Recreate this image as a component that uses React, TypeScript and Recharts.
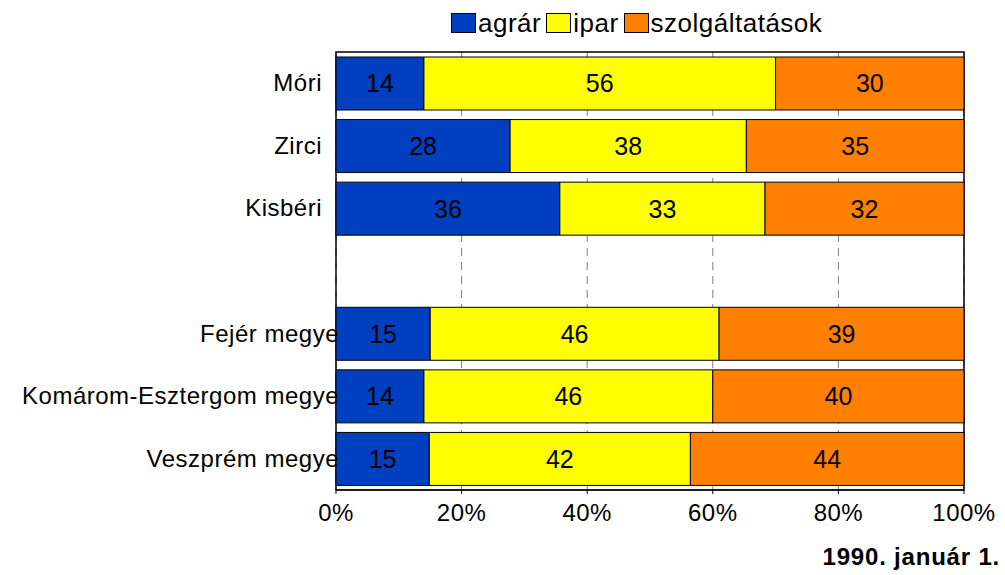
import React from 'react';
import { BarChart, Bar, XAxis, YAxis, CartesianGrid, LabelList, ReferenceArea } from 'recharts';

const categories = ['Móri', 'Zirci', 'Kisbéri', '', 'Fejér megye', 'Komárom-Esztergom megye', 'Veszprém megye'];
const agrar = [14, 28, 36, null, 15, 14, 15];
const ipar = [56, 38, 33, null, 46, 46, 42];
const szolg = [30, 35, 32, null, 39, 40, 44];
const xTicks = [0, 0.2, 0.4, 0.6, 0.8, 1];

const series = [
  { key: 'agrar', label: 'agrár', color: '#0040C0' },
  { key: 'ipar', label: 'ipar', color: '#FFFF00' },
  { key: 'szolg', label: 'szolgáltatások', color: '#FF8000' },
];

const data = categories.map((name, i) => ({
  name,
  agrar: agrar[i],
  ipar: ipar[i],
  szolg: szolg[i],
}));

const FONT = 'Liberation Sans, Arial, sans-serif';

// county labels ("megye") run over the axis line in the original
const CategoryTick = (props: any) => {
  const { x, y, payload } = props;
  const long = String(payload.value).includes('megye');
  return (
    <text x={x + (long ? 11 : -6)} y={y} dy={8} textAnchor="end" fontSize={24} letterSpacing={0.5} fill="#000" fontFamily={FONT}>
      {payload.value}
    </text>
  );
};

const showValue = (v: any) => (v == null || v === 0 ? '' : v);

export default function App() {
  return (
    <div style={{ position: 'absolute', left: 0, top: 0, width: 1005, height: 575, background: '#fff', fontFamily: FONT }}>
      {/* legend */}
      <div style={{ position: 'absolute', top: 8, left: 451, display: 'flex', alignItems: 'center', fontSize: 26, letterSpacing: 0.5, lineHeight: '30px' }}>
        {series.map((s) => (
          <div key={s.key} style={{ display: 'flex', alignItems: 'center', marginRight: 5 }}>
            <span style={{ display: 'inline-block', width: 23, height: 18, background: s.color, border: '1px solid #000', marginRight: 2 }} />
            <span>{s.label}</span>
          </div>
        ))}
      </div>
      <BarChart
        width={1005}
        height={575}
        data={data}
        layout="vertical"
        stackOffset="expand"
        barCategoryGap="8%"
        margin={{ top: 52, right: 41, bottom: 45, left: 0 }}
      >
        <CartesianGrid horizontal={false} stroke="#808080" strokeDasharray="8 6" />
        <XAxis
          type="number"
          domain={[0, 1]}
          ticks={xTicks}
          tickFormatter={(v: number) => `${Math.round(v * 100)}%`}
          height={40}
          stroke="#000"
          tickSize={4}
          tickMargin={10}
          tick={{ fontSize: 24, letterSpacing: 0.5, fill: '#000', fontFamily: FONT }}
          interval={0}
        />
        <YAxis
          type="category"
          dataKey="name"
          width={336}
          stroke="#000"
          tickLine={false}
          axisLine={false}
          tick={<CategoryTick />}
          interval={0}
        />
        {series.map((s) => (
          <Bar key={s.key} dataKey={s.key} stackId="a" fill={s.color} stroke="#000" strokeWidth={1} isAnimationActive={false}>
            <LabelList dataKey={s.key} position="center" formatter={showValue} fill="#000" fontSize={25} fontFamily={FONT} />
          </Bar>
        ))}
        <ReferenceArea x1={0} x2={1} fill="none" stroke="#000" strokeWidth={1.5} ifOverflow="visible" />
      </BarChart>
      <div style={{ position: 'absolute', right: 5, top: 543, fontSize: 24, letterSpacing: 0.8, fontWeight: 'bold' }}>1990. január 1.</div>
    </div>
  );
}
